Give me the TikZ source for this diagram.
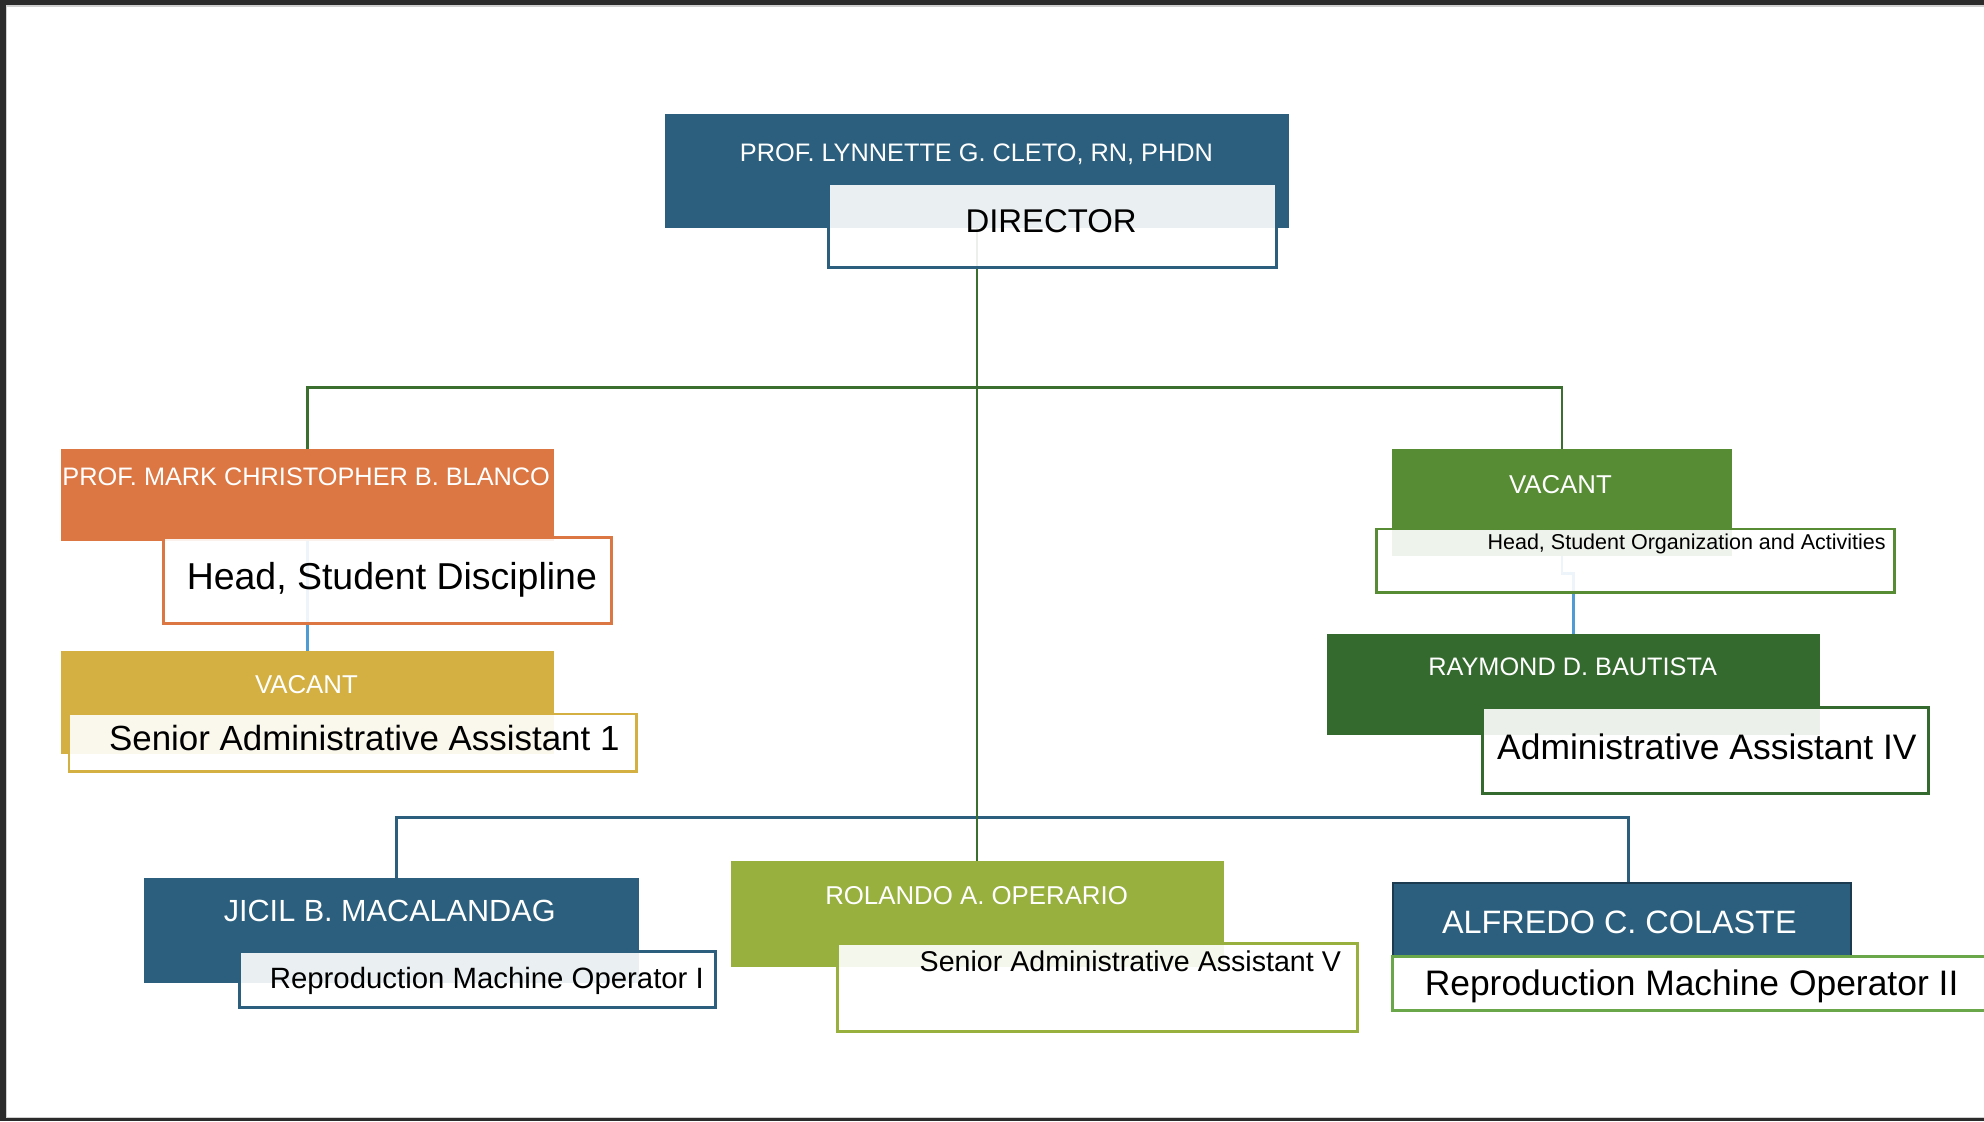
\documentclass[tikz,border=0pt]{standalone}
\usepackage{fontspec}
\setmainfont{Liberation Sans}
\usetikzlibrary{fit}
\pgfdeclarelayer{paper}
\pgfdeclarelayer{bg}
\pgfsetlayers{paper,bg,main}
\definecolor{cnavy}{HTML}{2B5F7D}
\definecolor{cnavydk}{HTML}{1C3B50}
\definecolor{corange}{HTML}{DC7743}
\definecolor{cyellow}{HTML}{D3B041}
\definecolor{cgreen}{HTML}{578C34}
\definecolor{cdkgreen}{HTML}{356A2F}
\definecolor{colive}{HTML}{97B03E}
\definecolor{clinegreen}{HTML}{3B6F30}
\definecolor{clineblue}{HTML}{4E9CD3}
\definecolor{clgreen}{HTML}{6AA64A}
\definecolor{cframe}{HTML}{2B2B2B}
\definecolor{cframelt}{HTML}{D0D0D0}
\newcommand\fsz[1]{\fontsize{#1}{#1}\selectfont}
\tikzset{
  namebox/.style={fill=#1, draw=none, inner sep=0pt, outer sep=0pt},
  titlebox/.style={draw=#1, line width=1.15pt, fill=white, fill opacity=0.9, inner sep=0pt, outer sep=0pt},
  nametext/.style={text=white, inner sep=0pt, anchor=base, font=\fsz{#1}},
  titletext/.style={text=black, inner sep=0pt, anchor=base, font=\fsz{#1}},
  gconn/.style={draw=clinegreen, line width=1.05pt},
  bconn/.style={draw=clineblue, line width=1.05pt},
  nconn/.style={draw=cnavy, line width=1.05pt}
}
\begin{document}
\begin{tikzpicture}[x=0.5pt,y=-0.5pt]
\useasboundingbox (0,0) rectangle (1568,886);
\begin{pgfonlayer}{paper}
  \fill[white] (0,0) rectangle (1568,886);
\end{pgfonlayer}

% ---------- name boxes ----------
\node[namebox=cnavy, fit={(525.6,90.1) (1018.4,180)}] (dirN) {};
\node[namebox=corange, fit={(48.2,354.9) (437.8,427.3)}] (blaN) {};
\node[namebox=cyellow, fit={(48.2,514.3) (437.8,595.9)}] (yelN) {};
\node[namebox=cgreen, fit={(1100.1,354.9) (1368.8,439.2)}] (vacN) {};
\node[namebox=cdkgreen, fit={(1048.8,501.1) (1438.4,580.6)}] (rayN) {};
\node[namebox=cnavy, fit={(114.2,693.6) (505,776.6)}] (jicN) {};
\node[namebox=colive, fit={(577.6,680.5) (967.4,764)}] (rolN) {};
\node[namebox=cnavy, draw=cnavydk, line width=0.8pt, fit={(1100.7,697.6) (1462.7,756.1)}] (alfN) {};

% ---------- connectors ----------
\coordinate (busTop) at (772.5,306);
\coordinate (elb) at (1234.45,453);
\coordinate (busL) at (313.6,646);
\coordinate (busR) at (1287,646);
\begin{pgfonlayer}{bg}
  \draw[nconn] (jicN.north -| busL) -- (busL) -- (busR) -- (alfN.north -| busR);
  \draw[gconn] (blaN.north) |- (busTop) -| (vacN.north);
  \draw[gconn] (dirN.center) -- (dirN.center |- rolN.north);
  \draw[bconn] (blaN.center) -- (yelN.center);
  \draw[bconn] (vacN.center) -- (elb) -| (rayN.center);
\end{pgfonlayer}

% ---------- title boxes ----------
\node[titlebox=cnavy, fit={(654.6,144.9) (1008.5,211.3)}] (dirT) {};
\node[titlebox=corange, fit={(129.1,424.7) (483.2,492.6)}] (blaT) {};
\node[titlebox=cyellow, fit={(54.5,564.3) (502.9,609.9)}] (yelT) {};
\node[titlebox=cgreen, fit={(1088.1,418.1) (1497.3,468.4)}] (vacT) {};
\node[titlebox=cdkgreen, fit={(1171.5,559.3) (1523.8,627)}] (rayT) {};
\node[titlebox=cnavy, fit={(189.5,752.1) (565.5,796.1)}] (jicT) {};
\node[titlebox=colive, fit={(661.7,746) (1072.5,815.4)}] (rolT) {};
\node[titlebox=clgreen, fit={(1100.7,756.1) (1575,798.8)}] (alfT) {};

% ---------- texts ----------
\node[nametext=10.0] (dirName) at (771.7,127.8) {PROF. LYNNETTE G. CLETO, RN, PHDN};
\node[titletext=13.0] (dirTitle) at (830.7,183.9) {DIRECTOR};
\node[nametext=10.0] (blaName) at (242,383.8) {PROF. MARK CHRISTOPHER B. BLANCO};
\node[titletext=14.8] (blaTitle) at (309.7,465.8) {Head, Student Discipline};
\node[nametext=10.2] (yelName) at (242.2,548) {VACANT};
\node[titletext=13.8] (yelTitle) at (287.9,593.5) {Senior Administrative Assistant 1};
\node[nametext=10.2] (vacName) at (1233.2,389.9) {VACANT};
\node[titletext=8.5] (vacTitle) at (1333,433.9) {Head, Student Organization and Activities};
\node[nametext=10.0] (rayName) at (1242.9,533.5) {RAYMOND D. BAUTISTA};
\node[titletext=14.0] (rayTitle) at (1349,600.6) {Administrative Assistant IV};
\node[nametext=12.1] (jicName) at (308,728.4) {JICIL B. MACALANDAG};
\node[titletext=11.6] (jicTitle) at (384.8,781.1) {Reproduction Machine Operator I};
\node[nametext=10.2] (rolName) at (771.8,714.5) {ROLANDO A. OPERARIO};
\node[titletext=11.3] (rolTitle) at (893.3,767.9) {Senior Administrative Assistant V};
\node[nametext=12.8] (alfName) at (1279.8,737.6) {ALFREDO C. COLASTE};
\node[titletext=14.0] (alfTitle) at (1336.9,786.4) {Reproduction Machine Operator II};

% ---------- page frame ----------
\fill[cframelt] (0,4) rectangle (1568,5.4);
\fill[cframelt] (4,0) rectangle (5.6,886);
\fill[cframelt] (0,882.4) rectangle (1568,883.8);
\fill[cframe] (0,0) rectangle (1568,4);
\fill[cframe] (0,0) rectangle (4.4,886);
\fill[cframe] (0,883.8) rectangle (1568,886);
\end{tikzpicture}
\end{document}
